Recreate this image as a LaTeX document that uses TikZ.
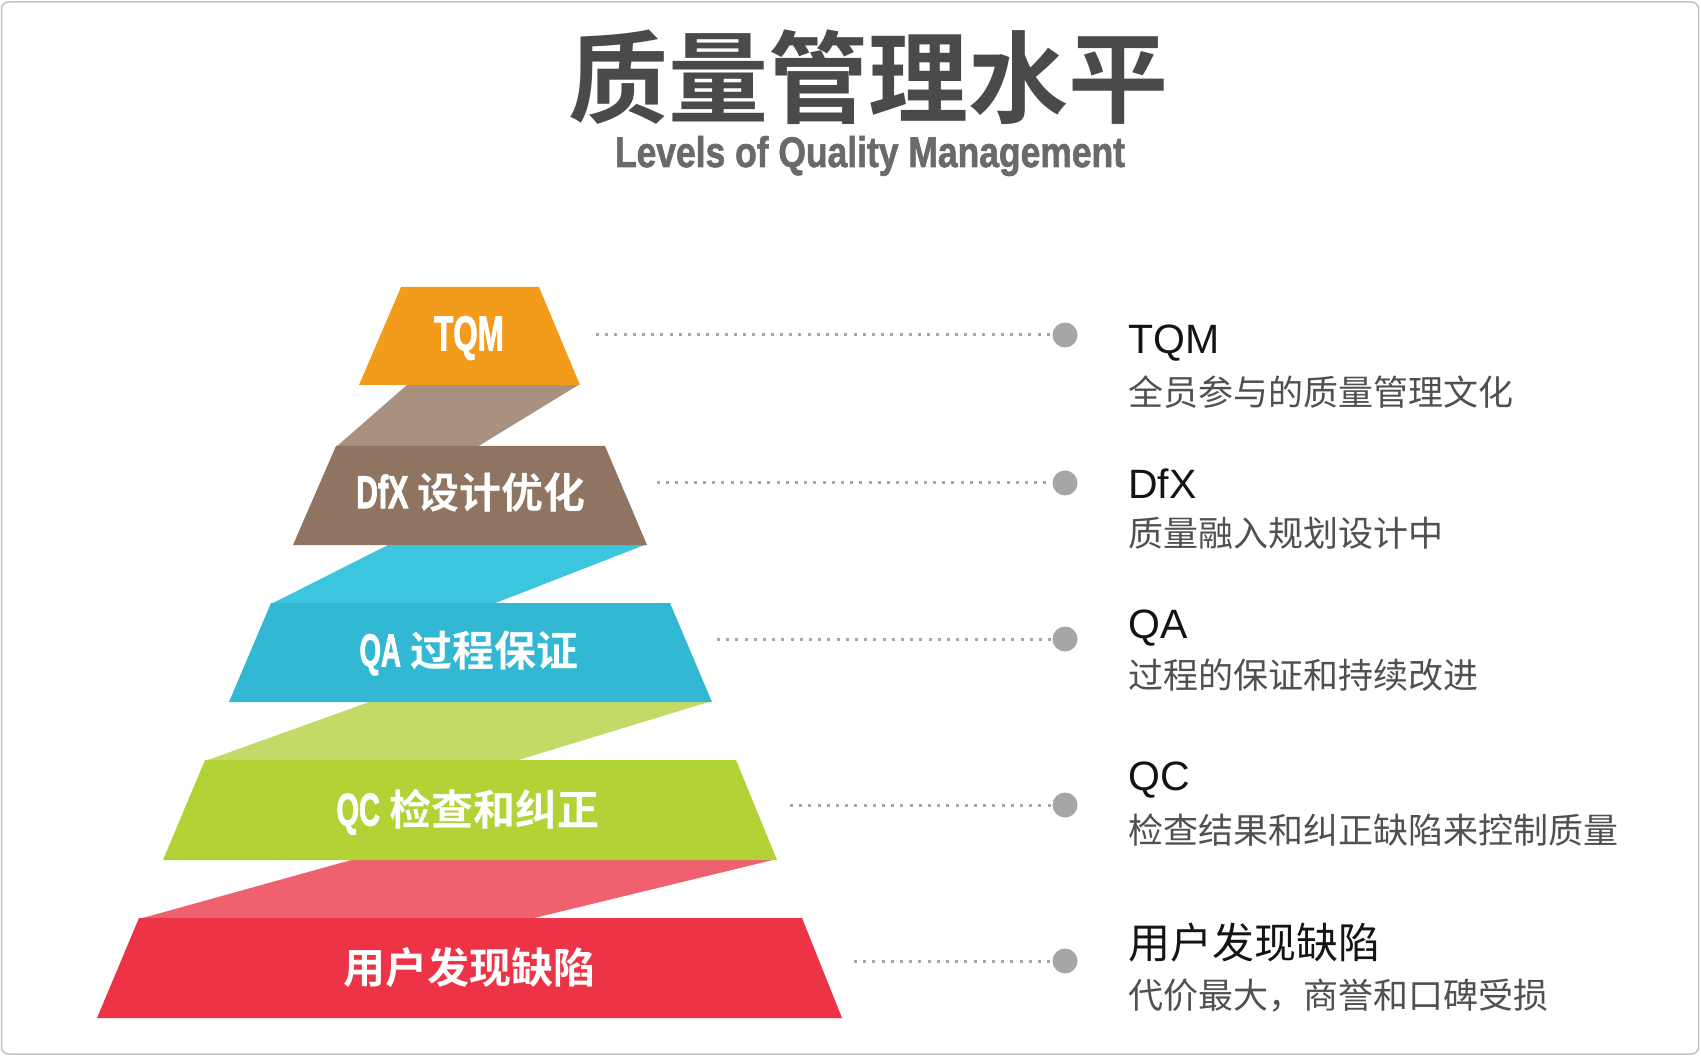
\documentclass[tikz,border=0pt]{standalone}
\usepackage{fontspec}
\setmainfont{Liberation Sans}
\newfontfamily\cjk{Noto Sans CJK SC}[BoldFont={Noto Sans CJK SC Bold}]
\newfontfamily\latheavy{Liberation Sans Bold}[FakeBold=2.2]
\newfontfamily\subheavy{Liberation Sans Bold}[FakeBold=1.6]
\definecolor{framecol}{HTML}{C4C4C4}
\definecolor{bandA}{HTML}{A8927F}
\definecolor{layA}{HTML}{F39C1B}
\definecolor{bandB}{HTML}{3BC6DE}
\definecolor{layB}{HTML}{8E7461}
\definecolor{bandC}{HTML}{C4DA66}
\definecolor{layC}{HTML}{33B8D3}
\definecolor{bandD}{HTML}{F0616F}
\definecolor{layD}{HTML}{B3D236}
\definecolor{layE}{HTML}{EC3446}
\definecolor{dotgray}{HTML}{A6A6A6}
\definecolor{subgray}{HTML}{505050}
\definecolor{titlegray}{HTML}{4A4A4A}
\definecolor{engray}{HTML}{6A6A6A}
\newcommand\condtxt[3]{\scalebox{#1}[1]{\latheavy\fontsize{#2pt}{#2pt}\selectfont #3}}
\tikzset{
  laytext/.style={text=white, inner sep=0pt, font=\cjk\bfseries\fontsize{42pt}{42pt}\selectfont},
  rtitle/.style={anchor=west, inner sep=0pt, text=black!92, font=\fontsize{41pt}{41pt}\selectfont},
  rtitlecjk/.style={anchor=west, inner sep=0pt, text=black!92, font=\cjk\fontsize{42pt}{42pt}\selectfont},
  rsub/.style={anchor=west, inner sep=0pt, text=subgray, font=\cjk\fontsize{35pt}{35pt}\selectfont},
  dotline/.style={draw=dotgray, line width=3pt, dash pattern=on 3pt off 6.2pt},
  dotc/.style={circle, fill=dotgray, minimum size=25pt, inner sep=0pt},
}
\begin{document}
\begin{tikzpicture}[x=1pt,y=-1pt]
\useasboundingbox (0,0) rectangle (1701,1056);
\fill[white] (0,0) rectangle (1701,1056);
\draw[framecol, line width=1.5pt, rounded corners=7pt] (1.5,2) rectangle (1698.5,1054);

% title
\node[font=\cjk\bfseries\fontsize{100pt}{100pt}\selectfont, text=titlegray, inner sep=0pt] (title) at (868,77) {质量管理水平};
\node[anchor=base, inner sep=0pt, text=engray] (subtitle) at (870,167) {\resizebox{510pt}{31pt}{\subheavy Levels of Quality Management}};

% bands
\fill[bandA] (408,384) -- (580,384) -- (477,447) -- (336,447) -- cycle;
\fill[bandB] (390,544) -- (647,544) -- (493,604) -- (271,604) -- cycle;
\fill[bandC] (372,701) -- (712,701) -- (515,761) -- (205,761) -- cycle;
\fill[bandD] (355,859) -- (777,859) -- (530,919) -- (139,919) -- cycle;

% layers
\fill[layA] (401,287) -- (539,287) -- (580,385) -- (359,385) -- cycle;
\fill[layB] (336,446) -- (605,446) -- (647,545) -- (293,545) -- cycle;
\fill[layC] (271,603) -- (670,603) -- (712,702) -- (229,702) -- cycle;
\fill[layD] (205,760) -- (736,760) -- (777,860) -- (163,860) -- cycle;
\fill[layE] (139,918) -- (802,918) -- (842,1018) -- (97,1018) -- cycle;

% layer texts
\node[laytext] (t1) at (469,338) {\condtxt{0.64}{49}{TQM}};
\node[laytext] (t2) at (471,492) {\condtxt{0.66}{46}{DfX} 设计优化};
\node[laytext] (t3) at (469,653) {\condtxt{0.6}{46}{QA} 过程保证};
\node[laytext] (t4) at (468,812) {\condtxt{0.63}{46}{QC} 检查和纠正};
\node[laytext] (t5) at (469,968) {用户发现缺陷};

% connectors
\node[dotc] (c1) at (1065,335) {};
\node[dotc] (c2) at (1065,483) {};
\node[dotc] (c3) at (1065,639) {};
\node[dotc] (c4) at (1065,805) {};
\node[dotc] (c5) at (1065,961) {};
\coordinate (s1) at (596,335);
\coordinate (s2) at (657,483);
\coordinate (s3) at (717,639);
\coordinate (s4) at (790,805);
\coordinate (s5) at (854,961);
\draw[dotline] (s1) -- (c1);
\draw[dotline] (s2) -- (c2);
\draw[dotline] (s3) -- (c3);
\draw[dotline] (s4) -- (c4);
\draw[dotline] (s5) -- (c5);

% right texts
\node[rtitle] (r1) at (1128,343) {TQM};
\node[rsub] (d1) at (1128,392) {全员参与的质量管理文化};
\node[rtitle] (r2) at (1128,484) {DfX};
\node[rsub] (d2) at (1128,533) {质量融入规划设计中};
\node[rtitle] (r3) at (1128,628) {QA};
\node[rsub] (d3) at (1128,675) {过程的保证和持续改进};
\node[rtitle] (r4) at (1128,780) {QC};
\node[rsub] (d4) at (1128,830) {检查结果和纠正缺陷来控制质量};
\node[rtitlecjk] (r5) at (1128,943) {用户发现缺陷};
\node[rsub] (d5) at (1128,996) {代价最大，商誉和口碑受损};
\end{tikzpicture}
\end{document}
